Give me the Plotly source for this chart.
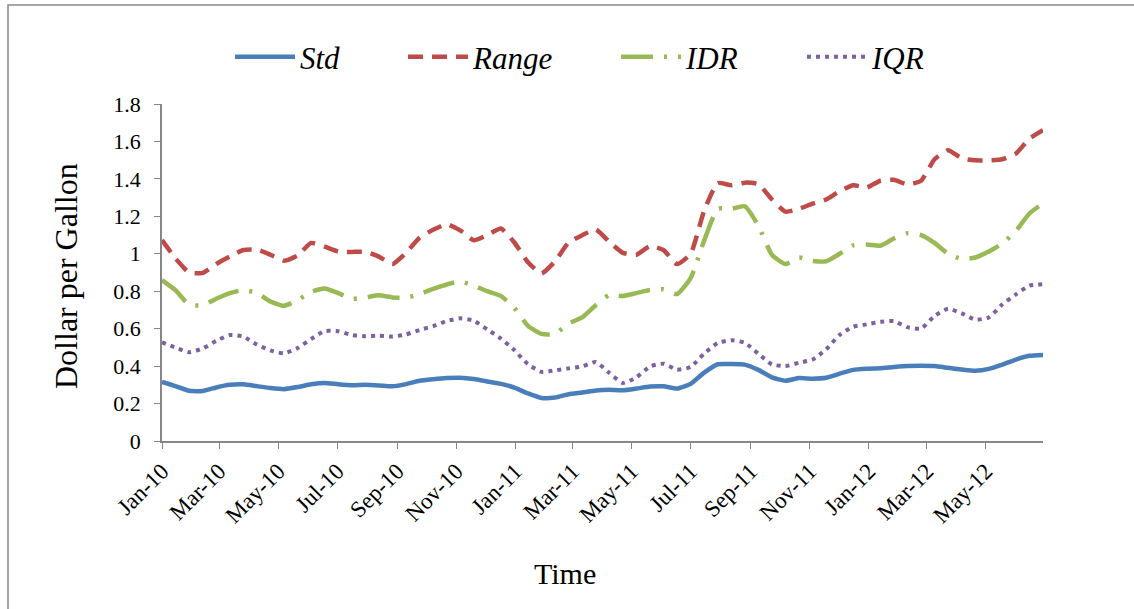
import pandas as pd
import plotly.graph_objects as go

# Biweekly observation dates, Jan 2010 - Jul 2012
dates = pd.date_range("2010-01-04", periods=66, freq="14D")

# Dispersion measures of retail gasoline prices (dollars per gallon)
std_vals = [0.316, 0.293, 0.268, 0.267, 0.286, 0.300, 0.303, 0.293, 0.283, 0.277,
            0.288, 0.303, 0.310, 0.303, 0.298, 0.300, 0.297, 0.292, 0.304, 0.322,
            0.330, 0.336, 0.338, 0.331, 0.318, 0.305, 0.285, 0.254, 0.230, 0.232,
            0.250, 0.259, 0.270, 0.274, 0.271, 0.280, 0.291, 0.292, 0.280, 0.305,
            0.365, 0.410, 0.411, 0.408, 0.380, 0.340, 0.322, 0.336, 0.333, 0.338,
            0.360, 0.380, 0.386, 0.389, 0.395, 0.400, 0.402, 0.400, 0.391, 0.382,
            0.375, 0.385, 0.408, 0.435, 0.455, 0.460]

range_vals = [1.073, 0.975, 0.900, 0.898, 0.945, 0.985, 1.020, 1.022, 0.995, 0.963,
              0.990, 1.058, 1.038, 1.012, 1.010, 1.010, 0.985, 0.945, 1.005, 1.085,
              1.128, 1.158, 1.125, 1.072, 1.100, 1.135, 1.060, 0.955, 0.895, 0.960,
              1.060, 1.099, 1.130, 1.064, 1.005, 0.995, 1.040, 1.020, 0.945, 1.000,
              1.230, 1.378, 1.366, 1.380, 1.372, 1.290, 1.225, 1.240, 1.268, 1.290,
              1.335, 1.366, 1.354, 1.390, 1.395, 1.370, 1.390, 1.505, 1.553, 1.510,
              1.499, 1.499, 1.505, 1.535, 1.615, 1.660]

idr_vals = [0.859, 0.805, 0.728, 0.725, 0.760, 0.790, 0.806, 0.790, 0.745, 0.722,
            0.752, 0.797, 0.815, 0.790, 0.760, 0.767, 0.778, 0.767, 0.765, 0.785,
            0.812, 0.836, 0.852, 0.830, 0.800, 0.775, 0.710, 0.615, 0.572, 0.572,
            0.627, 0.660, 0.725, 0.780, 0.774, 0.790, 0.806, 0.810, 0.785, 0.870,
            1.070, 1.240, 1.240, 1.254, 1.150, 0.995, 0.945, 0.980, 0.962, 0.960,
            1.000, 1.045, 1.050, 1.043, 1.082, 1.110, 1.100, 1.058, 1.000, 0.972,
            0.980, 1.012, 1.055, 1.122, 1.215, 1.270]

iqr_vals = [0.527, 0.499, 0.474, 0.494, 0.535, 0.566, 0.557, 0.515, 0.484, 0.468,
            0.496, 0.545, 0.587, 0.586, 0.566, 0.560, 0.563, 0.558, 0.569, 0.593,
            0.613, 0.641, 0.655, 0.643, 0.596, 0.547, 0.485, 0.410, 0.369, 0.377,
            0.388, 0.398, 0.422, 0.364, 0.310, 0.340, 0.398, 0.413, 0.381, 0.395,
            0.467, 0.523, 0.538, 0.525, 0.466, 0.409, 0.400, 0.418, 0.435, 0.490,
            0.567, 0.611, 0.623, 0.637, 0.640, 0.608, 0.600, 0.668, 0.706, 0.682,
            0.648, 0.660, 0.730, 0.783, 0.830, 0.838]

# Axis ticks every two months, labelled like "Jan-10"
tick_dates = pd.date_range("2010-01-01", "2012-05-01", freq="2MS") + pd.Timedelta(days=3)
tick_text = [d.strftime("%b-%y") for d in tick_dates]
y_ticks = [0, 0.2, 0.4, 0.6, 0.8, 1, 1.2, 1.4, 1.6, 1.8]
y_text = ["0", "0.2", "0.4", "0.6", "0.8", "1", "1.2", "1.4", "1.6", "1.8"]

SERIF = "Liberation Serif, Times New Roman, serif"
W, H = 1134, 609
L, R, T, B = 162, 91, 104, 168
pw, ph = W - L - R, H - T - B


def px_x(px):
    return (px - L) / pw


def px_y(py):
    return (H - B - py) / ph


series = [
    ("Std", std_vals, dict(color="#4A7EBB", width=4.5, dash="solid"), "legend", 230),
    ("Range", range_vals, dict(color="#BE4B48", width=4.5, dash="15px,9px"), "legend2", 403),
    ("IDR", idr_vals, dict(color="#98B954", width=4.5, dash="32px,11px,3px,11px"), "legend3", 616),
    ("IQR", iqr_vals, dict(color="#7D60A0", width=4, dash="4px,5px"), "legend4", 802),
]

fig = go.Figure()
legends = {}
for name, vals, line, leg, lx in series:
    fig.add_trace(go.Scatter(
        x=dates, y=vals, name=name, mode="lines",
        line=dict(shape="spline", smoothing=0.5, **line),
        legend=leg,
    ))
    legends[leg] = dict(
        orientation="h", x=px_x(lx), xanchor="left", y=px_y(57), yanchor="middle",
        itemwidth=60,
        font=dict(family=SERIF, size=31, style="italic", color="black"),
        bgcolor="rgba(0,0,0,0)", borderwidth=0,
    )

fig.update_layout(
    width=W, height=H,
    margin=dict(l=L, r=R, t=T, b=B),
    paper_bgcolor="white", plot_bgcolor="white",
    showlegend=True,
    font=dict(family=SERIF, color="black"),
    **legends,
    xaxis=dict(
        type="date", range=[dates[0], dates[-1]],
        tickmode="array", tickvals=list(tick_dates), ticktext=tick_text,
        tickangle=-45, tickfont=dict(family=SERIF, size=23, color="black"),
        showline=True, linecolor="#868686", linewidth=1.5,
        ticks="outside", ticklen=6, tickcolor="#868686", tickwidth=1.3,
        showgrid=False, zeroline=False,
    ),
    yaxis=dict(
        range=[0, 1.8], tickmode="array", tickvals=y_ticks, ticktext=y_text,
        tickfont=dict(family=SERIF, size=22, color="black"),
        ticklabelstandoff=9,
        showline=True, linecolor="#868686", linewidth=1.5,
        ticks="outside", ticklen=6, tickcolor="#868686", tickwidth=1.3,
        showgrid=False, zeroline=False,
    ),
    annotations=[
        dict(text="Time", xref="paper", yref="paper", x=px_x(565), y=px_y(573),
             showarrow=False, font=dict(family=SERIF, size=30, color="black"),
             xanchor="center", yanchor="middle"),
        dict(text="Dollar per Gallon", xref="paper", yref="paper", x=px_x(66), y=px_y(276),
             showarrow=False, textangle=-90, font=dict(family=SERIF, size=32, color="black"),
             xanchor="center", yanchor="middle"),
    ],
    shapes=[
        dict(type="rect", xref="paper", yref="paper",
             x0=px_x(8), x1=px_x(1160), y0=px_y(5), y1=px_y(640),
             line=dict(color="#898989", width=1.5), fillcolor="rgba(0,0,0,0)", layer="below"),
    ],
)

fig.write_html("out.html")
